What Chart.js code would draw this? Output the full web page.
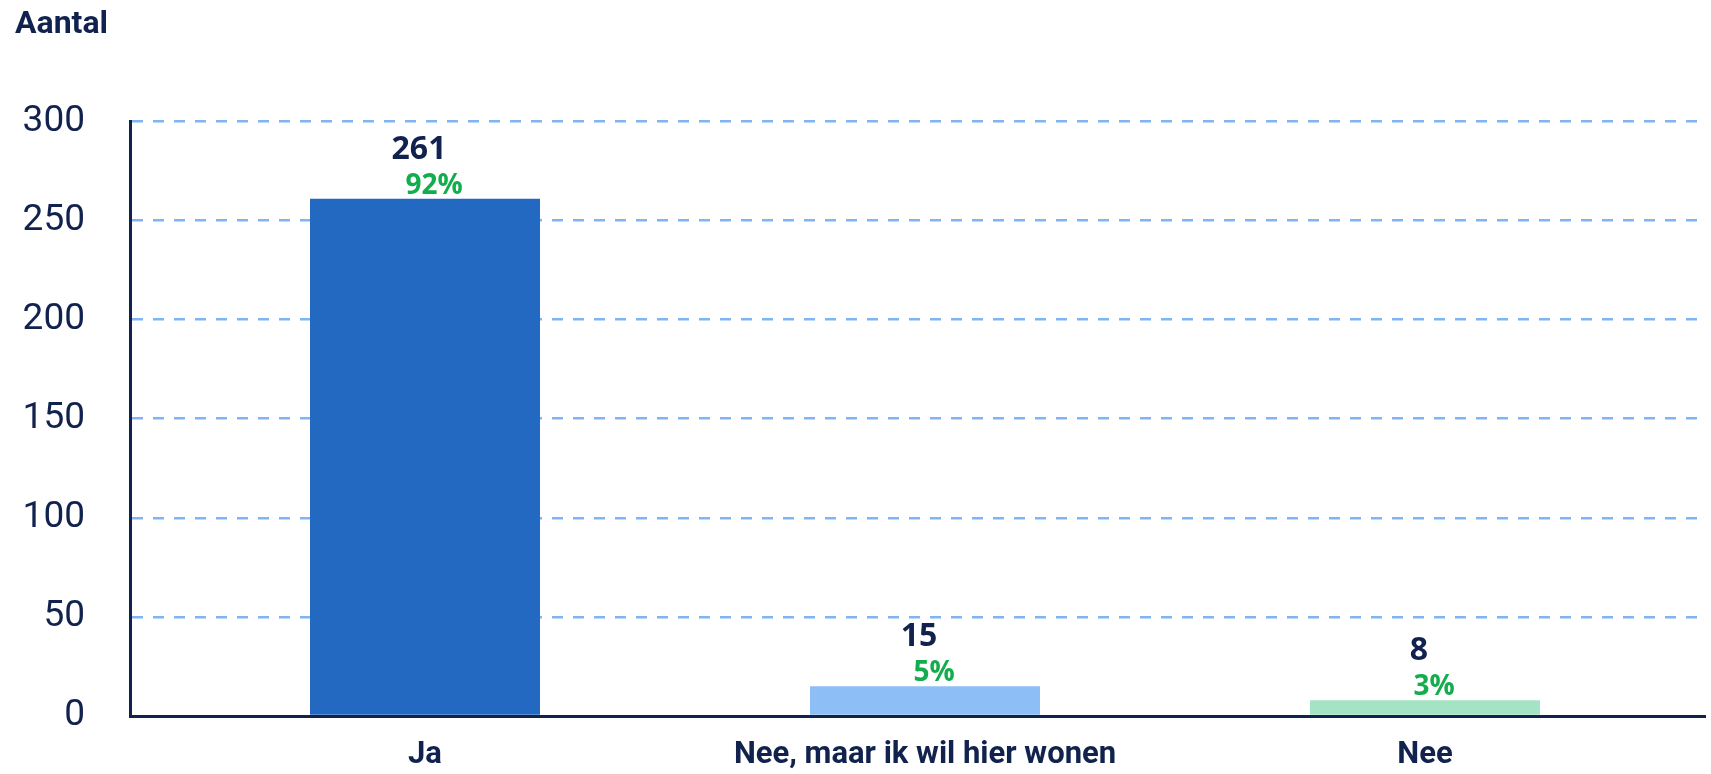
<!DOCTYPE html>
<html>
<head>
<meta charset="utf-8">
<script src="https://cdn.jsdelivr.net/npm/chart.js@4"></script>
<style>
  body { margin: 0; background: #ffffff; }
  #wrap { width: 1711px; height: 774px; }
</style>
</head>
<body>
<div id="wrap"><canvas id="myChart"></canvas></div>
<script>
const categories = ["Ja", "Nee, maar ik wil hier wonen", "Nee"];
const counts = [261, 15, 8];
const percentages = [92, 5, 3];
const barColors = ["#2369c2", "#8dbef5", "#a4e4c4"];
const yTicks = [0, 50, 100, 150, 200, 250, 300];

const navy = "#10224d";
const green = "#12ad4c";

const barLabels = {
  id: "barLabels",
  afterDatasetsDraw: (chart) => {
    const c = chart.ctx;
    const meta = chart.getDatasetMeta(0);
    meta.data.forEach((bar, i) => {
      c.save();
      c.textAlign = "center";
      c.textBaseline = "middle";
      c.fillStyle = navy;
      c.font = "bold 32px 'Open Sans'";
      c.fillText(String(counts[i]), bar.x - 6, bar.y - 49);
      c.fillStyle = green;
      c.font = "bold 28px 'Open Sans'";
      c.fillText(percentages[i] + "%", bar.x + 9, bar.y - 13);
      c.restore();
    });
  },
};

const ctx = document.getElementById("myChart");
new Chart(ctx, {
  type: "bar",
  data: {
    datasets: [
      {
        data: counts.map((v, i) => ({ x: i, y: v })),
        backgroundColor: barColors,
        borderWidth: 0,
        barPercentage: 0.46,
        categoryPercentage: 1,
      },
    ],
  },
  options: {
    responsive: true,
    maintainAspectRatio: false,
    animation: false,
    layout: { padding: { left: 15, right: 6, top: 0, bottom: 0 } },
    plugins: {
      legend: { display: false },
      tooltip: { enabled: false },
      title: {
        display: true,
        text: "Aantal",
        align: "start",
        color: navy,
        font: { family: "Roboto", size: 32, weight: "bold" },
        padding: { top: 6, bottom: 77 },
      },
    },
    scales: {
      x: {
        type: "linear",
        min: -0.59,
        max: 2.56,
        offset: false,
        grid: { display: false, drawTicks: false, offset: false },
        border: { display: true, color: navy, width: 3 },
        ticks: {
          stepSize: 1,
          includeBounds: false,
          maxRotation: 0,
          autoSkip: false,
          padding: 21,
          color: navy,
          font: { family: "Roboto", size: 31, weight: "bold" },
          callback: (v) => (Number.isInteger(v) ? categories[v] : ""),
        },
        afterFit: (s) => {
          s.height = 58;
          s.paddingLeft = 0;
          s.paddingRight = 0;
        },
      },
      y: {
        min: 0,
        max: 300,
        afterBuildTicks: (s) => {
          s.ticks = yTicks.map((v) => ({ value: v }));
        },
        grid: { color: "#80b4f4", lineWidth: 2.5, drawTicks: false },
        border: { display: true, color: navy, width: 3, dash: [11, 10] },
        ticks: {
          padding: 45,
          color: navy,
          font: { family: "Roboto", size: 37 },
        },
        afterFit: (s) => {
          s.width = 115;
          s.paddingTop = 0;
          s.paddingBottom = 0;
        },
      },
    },
  },
  plugins: [barLabels],
});
</script>
</body>
</html>
